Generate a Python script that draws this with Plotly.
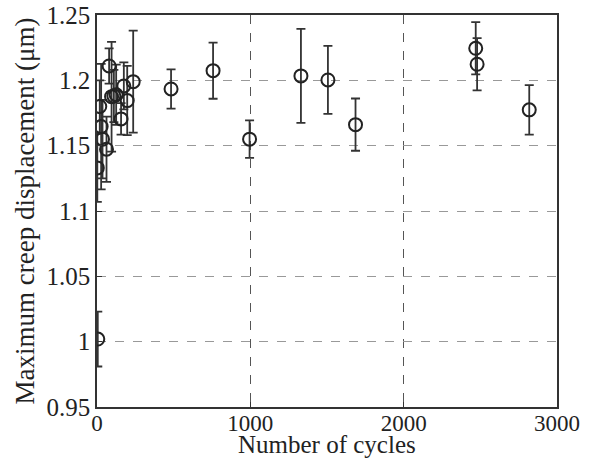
import plotly.graph_objects as go

cycles = [2, 5, 18, 27, 36, 62, 79, 95, 110, 125, 157, 175, 197, 236,
          483, 757, 995, 1330, 1506, 1686, 2470, 2479, 2819]
creep = [1.133, 1.002, 1.180, 1.1646, 1.155, 1.1473, 1.211, 1.1875, 1.188, 1.189,
         1.1705, 1.1957, 1.1845, 1.199, 1.1934, 1.2074, 1.155, 1.2034, 1.2003,
         1.1661, 1.2245, 1.2123, 1.1774]
err = [0.026, 0.021, 0.020, 0.048, 0.030, 0.025, 0.0135, 0.042, 0.020, 0.023,
       0.012, 0.018, 0.0265, 0.039, 0.015, 0.0215, 0.0143, 0.036, 0.026,
       0.020, 0.020, 0.020, 0.019]

x_ticks = [0, 1000, 2000, 3000]
y_ticks = [0.95, 1.0, 1.05, 1.1, 1.15, 1.2, 1.25]
y_labels = ["0.95", "1", "1.05", "1.1", "1.15", "1.2", "1.25"]
x_title = "Number of cycles"
y_title = "Maximum creep displacement (μm)"

fig = go.Figure()
fig.add_trace(go.Scatter(
    x=cycles, y=creep, mode="markers",
    marker=dict(symbol="circle-open", size=13, color="#222", line=dict(width=2, color="#222")),
    error_y=dict(type="data", array=err, visible=True, color="#333", thickness=1.8, width=4.5),
    showlegend=False,
))

font = dict(family="Liberation Serif, Times New Roman, serif", color="#222")
fig.update_layout(
    width=598, height=460,
    margin=dict(l=97, r=41, t=15, b=53, autoexpand=False),
    paper_bgcolor="white", plot_bgcolor="white",
    font=dict(size=25, **font),
    xaxis=dict(
        range=[0, 3000], tickvals=x_ticks, ticktext=[str(v) for v in x_ticks],
        showgrid=True, gridcolor="#555", griddash="dash", gridwidth=1,
        showline=True, linecolor="#333", linewidth=1.5, mirror=True,
        ticks="inside", ticklen=5, tickcolor="#333", zeroline=False,
        automargin=False, ticklabeloverflow="allow", ticklabelstandoff=-5,
        tickfont=dict(size=23, **font),
    ),
    yaxis=dict(
        range=[0.95, 1.25], tickvals=y_ticks, ticktext=y_labels,
        showgrid=True, gridcolor="#999", griddash="dash", gridwidth=1,
        showline=True, linecolor="#333", linewidth=1.5, mirror=True,
        ticks="inside", ticklen=5, tickcolor="#333", zeroline=False,
        automargin=False, ticklabeloverflow="allow",
        title=dict(text=y_title, font=dict(size=27, **font), standoff=4),
        tickfont=dict(size=25, **font),
    ),
    annotations=[dict(
        text=x_title, xref="paper", yref="paper", x=0.5, y=0,
        xanchor="center", yanchor="top", yshift=-22, showarrow=False,
        font=dict(size=25, **font),
    )],
)
fig.write_html("out.html", post_script="document.body.style.margin='0';",
               config={"displayModeBar": False})
